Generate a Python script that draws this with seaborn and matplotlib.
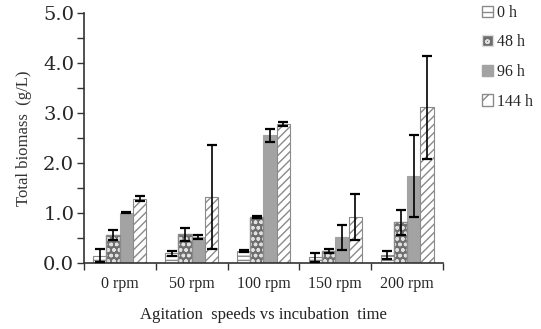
import matplotlib
matplotlib.use("Agg")
import matplotlib.pyplot as plt
import seaborn as sns
import pandas as pd
import numpy as np
from matplotlib.patches import Rectangle, Patch

categories = ["0 rpm", "50 rpm", "100 rpm", "150 rpm", "200 rpm"]
times = ["0 h", "48 h", "96 h", "144 h"]
vals_0h = [0.15, 0.20, 0.25, 0.12, 0.16]
vals_48h = [0.55, 0.57, 0.92, 0.24, 0.81]
vals_96h = [1.00, 0.52, 2.55, 0.51, 1.73]
vals_144h = [1.28, 1.32, 2.78, 0.91, 3.11]
err_0h = [0.13, 0.05, 0.02, 0.09, 0.08]
err_48h = [0.10, 0.13, 0.02, 0.04, 0.25]
err_96h = [0.01, 0.04, 0.13, 0.24, 0.82]
err_144h = [0.05, 1.03, 0.04, 0.46, 1.03]
yticks = [0.0, 1.0, 2.0, 3.0, 4.0, 5.0]

sns.set_style("white")
plt.rcParams['font.family'] = ['Liberation Serif', 'DejaVu Serif']

vals = [vals_0h, vals_48h, vals_96h, vals_144h]
errs = [err_0h, err_48h, err_96h, err_144h]
df = pd.DataFrame({
    "cat": [c for t in times for c in categories],
    "time": [t for t in times for c in categories],
    "val": [v for vs in vals for v in vs],
})

fig = plt.figure(figsize=(5.41, 3.29), dpi=100)
ax = fig.add_axes([0.155, 0.2006, 0.664, 0.76])

styles = {
    "0 h": dict(face="white", edge="#8a8a8a", hatch="----"),
    "48 h": dict(face="#6e6e6e", edge="#e0e0e0", hatch="ooo"),
    "96 h": dict(face="#a3a3a3", edge="#a3a3a3", hatch=""),
    "144 h": dict(face="white", edge="#8a8a8a", hatch="////"),
}
palette = {t: styles[t]["face"] for t in times}
sns.barplot(data=df, x="cat", y="val", hue="time", order=categories,
            hue_order=times, palette=palette, width=0.74, gap=0,
            errorbar=None, ax=ax, saturation=1, legend=False)

bars = [p for p in ax.patches if isinstance(p, Rectangle)]
for i, t in enumerate(times):
    st = styles[t]
    for j in range(len(categories)):
        p = bars[i * len(categories) + j]
        p.set_facecolor(st["face"])
        p.set_edgecolor(st["edge"])
        p.set_hatch(st["hatch"])
        p.set_linewidth(0.8)
        if t == "48 h":
            ax.add_patch(Rectangle(p.get_xy(), p.get_width(), p.get_height(),
                                   fill=False, edgecolor="#8a8a8a", lw=1.0))
        x = p.get_x() + p.get_width() / 2
        ax.errorbar(x, vals[i][j], yerr=errs[i][j], color="black",
                    lw=1.2, capsize=3.6, capthick=1.6, zorder=5)

ax.set_ylim(0, 5.0)
ax.set_xlim(-0.5, 4.5)
ax.set_yticks(yticks)
ax.set_yticks(np.arange(0.5, 5.0, 1.0), minor=True)
ax.set_yticklabels([f"{v:.1f}" for v in yticks], fontsize=14, family="DejaVu Serif")
ax.set_xticks(range(5))
ax.set_xticklabels(categories, fontsize=11.5)
ax.set_xticks(np.arange(-0.5, 4.6, 1.0), minor=True)
ax.tick_params(axis="x", which="major", length=0, pad=9)
ax.tick_params(axis="x", which="minor", length=5, direction="out",
               color="#333333", width=1, bottom=True)
ax.tick_params(axis="y", which="both", length=5, direction="out",
               color="#333333", width=1, pad=2, left=True)
for s in ["top", "right"]:
    ax.spines[s].set_visible(False)
for s in ["left", "bottom"]:
    ax.spines[s].set_color("#333333")
    ax.spines[s].set_linewidth(1.2)

ax.set_ylabel("Total biomass  (g/L)", fontsize=12, color="#333333", labelpad=8)
ax.set_xlabel("Agitation  speeds vs incubation  time", fontsize=12,
              color="#222222", labelpad=11)

handles = []
for t in times:
    st = styles[t]
    handles.append(Patch(facecolor=st["face"], edgecolor=st["edge"],
                         hatch=st["hatch"].replace("///", "/").replace("---", "-").replace("oo", "o"), label=t))
fig.legend(handles=handles, loc="upper left", bbox_to_anchor=(0.888, 0.99),
           frameon=False, fontsize=11.5, handlelength=0.7, handleheight=0.7,
           handletextpad=0.25, labelspacing=0.85, borderaxespad=0.0, borderpad=0.1)

fig.savefig("out.png", dpi=100)
